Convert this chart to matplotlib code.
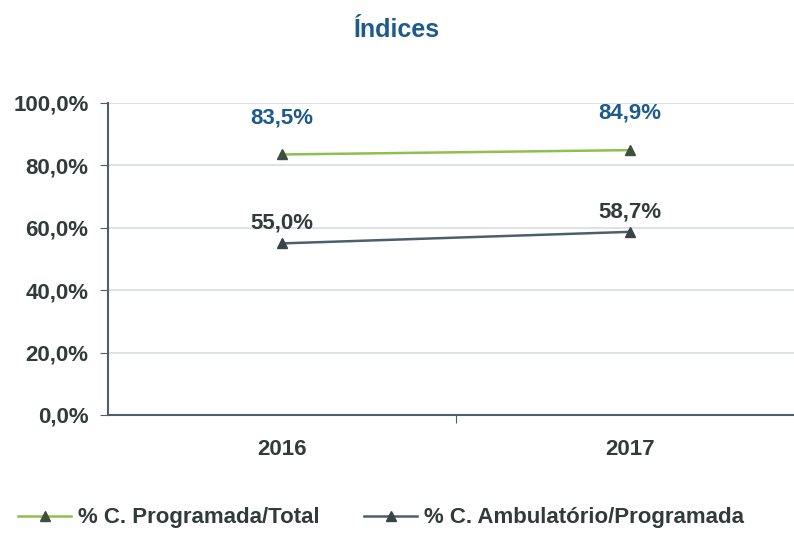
import matplotlib
matplotlib.use("Agg")
import matplotlib.pyplot as plt
from matplotlib import font_manager

anos = ['2016', '2017']
programada_total = [83.5, 84.9]
ambulatorio_programada = [55.0, 58.7]
y_ticks = [0, 20, 40, 60, 80, 100]

names = {f.name for f in font_manager.fontManager.ttflist}
fam = 'Liberation Sans Narrow' if 'Liberation Sans Narrow' in names else 'Liberation Sans'
plt.rcParams['font.family'] = [fam, 'DejaVu Sans']

verde = '#8fbf4f'
cinza = '#4d5f6c'
azul = '#1d5b8c'
texto = '#333a3a'

fig = plt.figure(figsize=(7.94, 5.34), dpi=100)
ax = fig.add_axes([108 / 794, 1 - 415 / 534, 696 / 794, 312 / 534])

x = [0.5, 1.5]
ax.plot(x, programada_total, color=verde, lw=1.8, marker='^', ms=7,
        mfc='#3f4f3f', mec='#3f4f3f', label='% C. Programada/Total', zorder=3)
ax.plot(x, ambulatorio_programada, color=cinza, lw=1.8, marker='^', ms=7,
        mfc='#3a4448', mec='#3a4448', label='% C. Ambulatório/Programada', zorder=3)

def fmt(v):
    return ('%.1f%%' % v).replace('.', ',')

for xi, v in zip(x, programada_total):
    ax.annotate(fmt(v), (xi, v), xytext=(0, 19), textcoords='offset points',
                ha='center', va='bottom', color=azul, fontsize=16, fontweight='bold')
for xi, v in zip(x, ambulatorio_programada):
    ax.annotate(fmt(v), (xi, v), xytext=(0, 7), textcoords='offset points',
                ha='center', va='bottom', color=texto, fontsize=16, fontweight='bold')

ax.set_xlim(0, 2)
ax.set_ylim(0, 100)
ax.set_yticks(y_ticks)
ax.set_yticklabels([fmt(t) for t in y_ticks], fontsize=16, fontweight='bold', color=texto)
ax.set_xticks([1])
ax.set_xticklabels([''])
ax.set_xticks(x, minor=True)
ax.set_xticklabels(anos, minor=True, fontsize=16, fontweight='bold', color=texto)
ax.tick_params(axis='x', which='minor', length=0, pad=17)
ax.tick_params(axis='x', which='major', length=6, color=cinza, direction='out')
ax.tick_params(axis='y', length=6, color=cinza, pad=8)

ax.grid(axis='y', color='#d6dde3', lw=1.2)
ax.set_axisbelow(True)
for s in ['top', 'right']:
    ax.spines[s].set_visible(False)
ax.spines['left'].set_color(cinza)
ax.spines['bottom'].set_color(cinza)
ax.spines['left'].set_linewidth(1.5)
ax.spines['bottom'].set_linewidth(1.5)

fig.text(0.5, 1 - 30 / 534, 'Índices', ha='center', va='center',
         color=azul, fontsize=18, fontweight='bold')

fig.legend(loc='center', bbox_to_anchor=(0.48, 1 - 518 / 534), ncol=2, frameon=False,
           prop={'size': 16, 'weight': 'bold'}, handlelength=2.4, columnspacing=2.0,
           handletextpad=0.3, labelcolor=texto)

fig.savefig('out.png', dpi=100)
